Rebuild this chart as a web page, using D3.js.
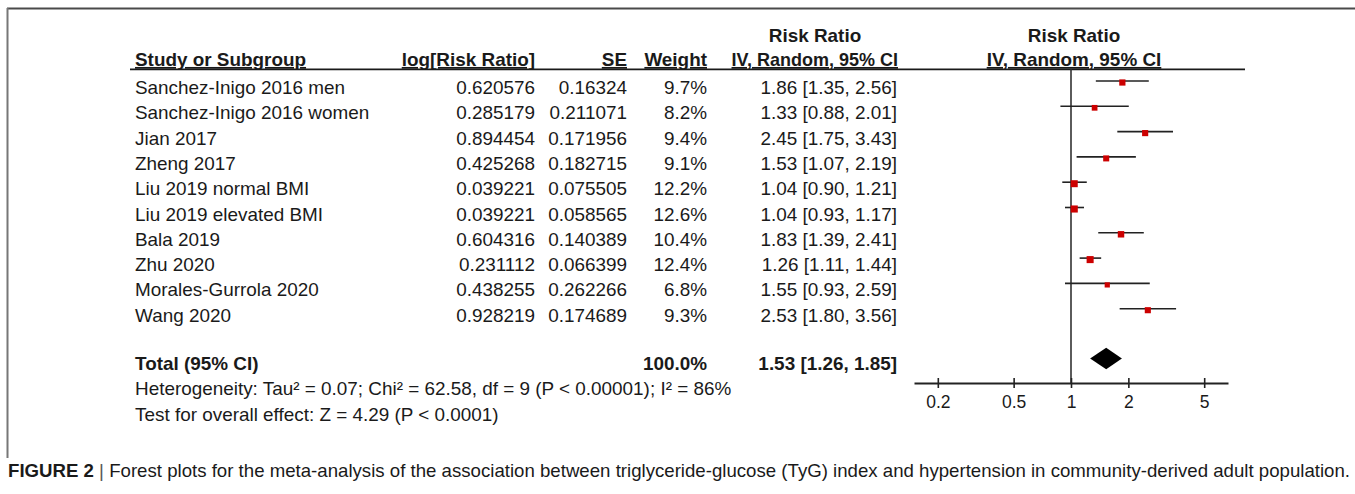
<!DOCTYPE html>
<html lang="en">
    <head>
        <meta charset="utf-8">
        <title>Forest plot TyG and hypertension</title>
        <script type="text/javascript" src="https://d3js.org/d3.v7.min.js"></script>
        <style type="text/css">
            body { margin: 0; background: #fff; }
            text { font-family: Arial, "Liberation Sans", sans-serif; fill: #1a1a1a; }
        </style>
    </head>
    <body>
        <div id="forest"></div>
        <script type="text/javascript">

            // study rows
            var studies = ["Sanchez-Inigo 2016 men", "Sanchez-Inigo 2016 women", "Jian 2017", "Zheng 2017",
                "Liu 2019 normal BMI", "Liu 2019 elevated BMI", "Bala 2019", "Zhu 2020",
                "Morales-Gurrola 2020", "Wang 2020"];
            var logRR = ["0.620576", "0.285179", "0.894454", "0.425268", "0.039221", "0.039221",
                "0.604316", "0.231112", "0.438255", "0.928219"];
            var se = ["0.16324", "0.211071", "0.171956", "0.182715", "0.075505", "0.058565",
                "0.140389", "0.066399", "0.262266", "0.174689"];
            var weight = [9.7, 8.2, 9.4, 9.1, 12.2, 12.6, 10.4, 12.4, 6.8, 9.3];
            var rr = [1.86, 1.33, 2.45, 1.53, 1.04, 1.04, 1.83, 1.26, 1.55, 2.53];
            var lower = [1.35, 0.88, 1.75, 1.07, 0.90, 0.93, 1.39, 1.11, 0.93, 1.80];
            var upper = [2.56, 2.01, 3.43, 2.19, 1.21, 1.17, 2.41, 1.44, 2.59, 3.56];

            // pooled estimate
            var total = {rr: 1.53, lower: 1.26, upper: 1.85, weight: 100.0};
            var axisTicks = [0.2, 0.5, 1, 2, 5];

            var heterogeneity = "Heterogeneity: Tau\u00b2 = 0.07; Chi\u00b2 = 62.58, df = 9 (P < 0.00001); I\u00b2 = 86%";
            var overall = "Test for overall effect: Z = 4.29 (P < 0.0001)";

            var W = 1355, H = 494;
            var fs = 17.5, sx = 1.08;
            var row0 = 94, rowStep = 25.3;

            var svg = d3.select("#forest")
                .append("svg")
                    .attr("width", W)
                    .attr("height", H);

            // frame (top and left edges)
            svg.append("line").attr("x1", 7).attr("x2", W).attr("y1", 8.5).attr("y2", 8.5)
                .attr("stroke", "#4a4a4a").attr("stroke-width", 2);
            svg.append("line").attr("x1", 7.5).attr("x2", 7.5).attr("y1", 8).attr("y2", 458)
                .attr("stroke", "#777").attr("stroke-width", 2);

            function txt(x, y, s, anchor, bold, underline, scl) {
                return svg.append("text")
                    .attr("transform", "translate(" + x + "," + y + ") scale(" + (scl || sx) + ",1)")
                    .attr("text-anchor", anchor || "start")
                    .attr("font-size", fs)
                    .attr("font-weight", bold ? "bold" : "normal")
                    .attr("text-decoration", underline ? "underline" : null)
                    .text(s);
            }

            var colStudy = 135, colLog = 535, colSE = 627, colW = 707, colCI = 897, colPlot = 1074;

            // headers
            txt(815, 42, "Risk Ratio", "middle", true);
            txt(colPlot, 42, "Risk Ratio", "middle", true);
            txt(colStudy, 66, "Study or Subgroup", "start", true, true);
            txt(colLog, 66, "log[Risk Ratio]", "end", true, true);
            txt(colSE, 66, "SE", "end", true, true);
            txt(colW, 66, "Weight", "end", true, true);
            txt(colCI + 1, 66, "IV, Random, 95% CI", "end", true, true, 1.03);
            txt(colPlot, 66, "IV, Random, 95% CI", "middle", true, true);

            svg.append("line").attr("x1", 130).attr("x2", 1245).attr("y1", 69.3).attr("y2", 69.3)
                .attr("stroke", "#1a1a1a").attr("stroke-width", 1.8);

            var f2 = d3.format(".2f");
            studies.forEach(function(s, i) {
                var y = row0 + i * rowStep;
                txt(colStudy, y, s);
                txt(colLog, y, logRR[i], "end");
                txt(colSE, y, se[i], "end");
                txt(colW, y, weight[i].toFixed(1) + "%", "end");
                txt(colCI, y, f2(rr[i]) + " [" + f2(lower[i]) + ", " + f2(upper[i]) + "]", "end");
            });

            var yTot = 369.5;
            txt(colStudy, yTot, "Total (95% CI)", "start", true);
            txt(colW, yTot, total.weight.toFixed(1) + "%", "end", true);
            txt(colCI, yTot, f2(total.rr) + " [" + f2(total.lower) + ", " + f2(total.upper) + "]", "end", true);
            txt(colStudy, 395, heterogeneity);
            txt(colStudy, 420.5, overall);

            // log scale for the plot
            var x = d3.scaleLog()
                .domain([0.15, 1 / 0.15])
                .range([914, 1228]);
            var yAxis = 383;

            var plot = svg.append("g");

            // no-effect line
            plot.append("line")
                .attr("x1", x(1)).attr("x2", x(1))
                .attr("y1", 69.3).attr("y2", yAxis)
                .attr("stroke", "#333").attr("stroke-width", 1.6);

            var rows = studies.map(function(s, i) {
                return {y: row0 + i * rowStep, rr: rr[i], lo: lower[i], hi: upper[i], w: weight[i]};
            });

            plot.selectAll(".ci")
                .data(rows)
                .enter().append("line")
                    .attr("class", "ci")
                    .attr("x1", function(d) { return x(d.lo); })
                    .attr("x2", function(d) { return x(d.hi); })
                    .attr("y1", function(d) { return d.y - 13; })
                    .attr("y2", function(d) { return d.y - 13; })
                    .attr("stroke", "#222").attr("stroke-width", 1.6);

            plot.selectAll(".box")
                .data(rows)
                .enter().append("rect")
                    .attr("class", "box")
                    .attr("x", function(d) { return x(d.rr) - Math.sqrt(d.w); })
                    .attr("y", function(d) { return d.y - 11.5 - Math.sqrt(d.w); })
                    .attr("width", function(d) { return 2 * Math.sqrt(d.w); })
                    .attr("height", function(d) { return 2 * Math.sqrt(d.w); })
                    .attr("fill", "#cc0000");

            // pooled diamond
            var yd = 358.5, hd = 10.8;
            plot.append("path")
                .attr("d", "M" + x(total.lower) + "," + yd +
                    "L" + x(total.rr) + "," + (yd - hd) +
                    "L" + x(total.upper) + "," + yd +
                    "L" + x(total.rr) + "," + (yd + hd) + "Z")
                .attr("fill", "#000");

            // axis
            var ax = plot.append("g")
                .attr("transform", "translate(0," + yAxis + ")")
                .call(d3.axisBottom(x)
                    .tickValues(axisTicks)
                    .tickFormat(d3.format(""))
                    .tickSizeInner(5)
                    .tickSizeOuter(0)
                    .tickPadding(7.6));
            ax.select(".domain").attr("stroke", "#222").attr("stroke-width", 2);
            ax.selectAll(".tick line").attr("y1", -5).attr("stroke", "#222").attr("stroke-width", 1.6);
            ax.selectAll(".tick text")
                .attr("font-size", fs)
                .attr("font-family", "Arial, 'Liberation Sans', sans-serif")
                .attr("fill", "#1a1a1a");

            // caption
            var cap = svg.append("text")
                .attr("x", 8).attr("y", 477)
                .attr("font-size", 18.5)
                .attr("textLength", 1342)
                .attr("lengthAdjust", "spacingAndGlyphs")
                .attr("fill", "#222");
            cap.append("tspan").attr("font-weight", "bold").text("FIGURE 2");
            cap.append("tspan").attr("fill", "#555").text(" | ");
            cap.append("tspan").text("Forest plots for the meta-analysis of the association between triglyceride-glucose (TyG) index and hypertension in community-derived adult population.");
        </script>
    </body>
</html>
